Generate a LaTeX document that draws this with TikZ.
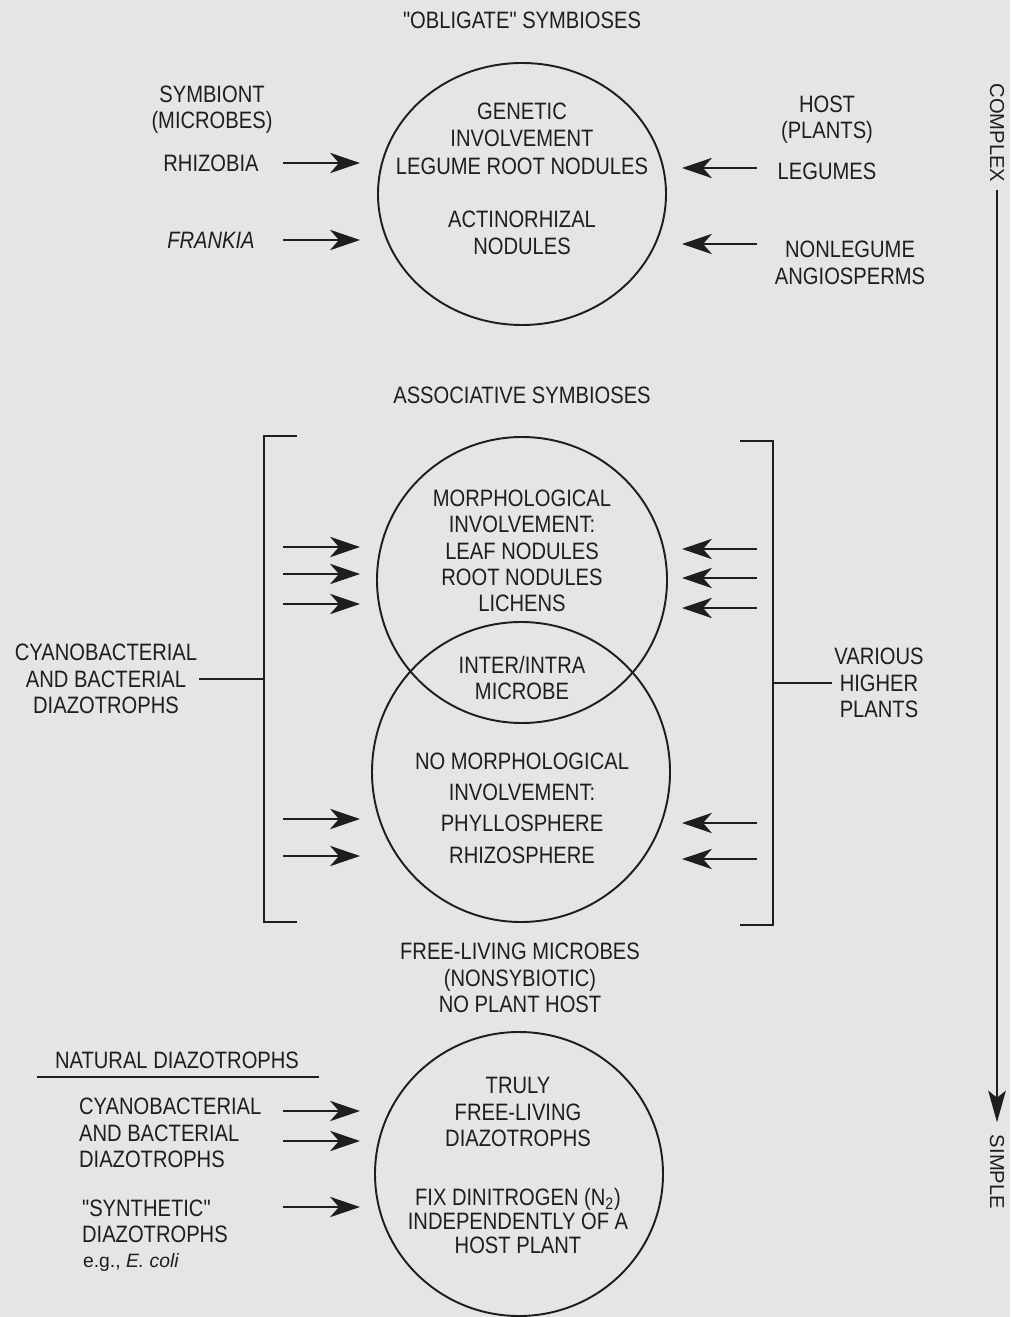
\documentclass[tikz,border=0pt]{standalone}
\usepackage{fontspec}
\setmainfont{Liberation Sans}[FakeStretch=0.85, Ligatures=TeXOff]
\newfontfamily\widefont{Liberation Sans}
\usepackage{xcolor}
\usetikzlibrary{arrows.meta, positioning}
\definecolor{paper}{RGB}{229,229,227}
\definecolor{ink}{RGB}{30,30,30}

\begin{document}
\begin{tikzpicture}[x=0.02cm, y=-0.02cm,
    txt/.style={font=\fontsize{13.5}{15}\selectfont, align=center, inner sep=1pt, text=ink},
    arr/.style={draw=ink, line width=1.6pt, -{Stealth[length=17pt, width=11.5pt, inset=5pt]}},
    ring/.style={draw=ink, line width=1.1pt},
    brk/.style={draw=ink, line width=1.2pt},
    side/.style={font=\widefont\fontsize{11.5}{13}\selectfont, text=ink, rotate=-90, inner sep=2pt}]
    \def\lxa{283} \def\lxb{360}
    \def\rxa{757} \def\rxb{682}
    \useasboundingbox (0,0) rectangle (1010,1317);
    \fill[paper] (0,0) rectangle (1010,1317);
    \clip (0,0) rectangle (1010,1317);

    % obligate
    \node[txt] (obltitle) at (522,20) {"OBLIGATE" SYMBIOSES};
    \coordinate (obl) at (522,194);
    \draw[ring] (obl) ellipse [x radius=144, y radius=131];
    \node[txt] (genetic) at (522,125) {GENETIC\\INVOLVEMENT};
    \node[txt] (legnod) at (522,166) {LEGUME ROOT NODULES};
    \node[txt] (actino) at (522,233) {ACTINORHIZAL\\NODULES};
    \node[txt] (symbiont) at (212,110) {SYMBIONT\\(MICROBES)};
    \node[txt] (rhizobia) at (211,163) {RHIZOBIA};
    \node[txt] (frankia) at (211,240) {\textit{FRANKIA}};
    \node[txt] (host) at (827,120) {HOST\\(PLANTS)};
    \node[txt] (legumes) at (827,171) {LEGUMES};
    \node[txt] (nonleg) at (850,263) {NONLEGUME\\ANGIOSPERMS};
    \foreach \yy [count=\i] in {163,240} {
        \coordinate (ola\i) at (\lxa,\yy);
        \coordinate (olb\i) at (\lxb,\yy);
        \draw[arr] (ola\i) -- (olb\i);
    }
    \foreach \yy [count=\i] in {168,244} {
        \coordinate (ora\i) at (\rxa,\yy);
        \coordinate (orb\i) at (\rxb,\yy);
        \draw[arr] (ora\i) -- (orb\i);
    }

    % associative
    \node[txt] (asstitle) at (522,395) {ASSOCIATIVE SYMBIOSES};
    \coordinate (morph) at (522,580);
    \coordinate (nomorph) at (521,772);
    \draw[ring] (morph) ellipse [x radius=145, y radius=143];
    \draw[ring] (nomorph) ellipse [x radius=149, y radius=150];
    \node[txt] (morphtxt) at (522,551) {MORPHOLOGICAL\\INVOLVEMENT:\\LEAF NODULES\\ROOT NODULES\\LICHENS};
    \node[txt] (inter) at (522,678) {INTER/INTRA\\MICROBE};
    \node[txt, font=\fontsize{13.5}{17.9}\selectfont] (nomorphtxt) at (522,808) {NO MORPHOLOGICAL\\INVOLVEMENT:\\PHYLLOSPHERE\\RHIZOSPHERE};
    \draw[brk] (297,436) -- (264,436) -- (264,922) -- (297,922);
    \draw[brk] (740,441) -- (773,441) -- (773,925) -- (740,925);
    \coordinate (lbrk) at (264,436);
    \coordinate (rbrk) at (773,441);
    \node[txt] (cyano) at (106,679) {CYANOBACTERIAL\\AND BACTERIAL\\DIAZOTROPHS};
    \node[txt] (various) at (879,683) {VARIOUS\\HIGHER\\PLANTS};
    \draw[brk] (cyano.east) -- (cyano.east -| lbrk);
    \draw[brk] (various.west) -- (various.west -| rbrk);
    \foreach \yy [count=\i] in {547,574,604,819,856} {
        \coordinate (ala\i) at (\lxa,\yy);
        \coordinate (alb\i) at (\lxb,\yy);
        \draw[arr] (ala\i) -- (alb\i);
    }
    \foreach \yy [count=\i] in {549,578,608,823,859} {
        \coordinate (ara\i) at (\rxa,\yy);
        \coordinate (arb\i) at (\rxb,\yy);
        \draw[arr] (ara\i) -- (arb\i);
    }

    % free-living
    \node[txt] (freetitle) at (520,978) {FREE-LIVING MICROBES\\(NONSYBIOTIC)\\NO PLANT HOST};
    \coordinate (free) at (519,1174);
    \draw[ring] (free) ellipse [x radius=144, y radius=142];
    \node[txt] (truly) at (518,1112) {TRULY\\FREE-LIVING\\DIAZOTROPHS};
    \node[txt, font=\fontsize{13.5}{13.8}\selectfont] (fix) at (518,1221) {FIX DINITROGEN (N\textsubscript{2})\\INDEPENDENTLY OF A\\HOST PLANT};
    \node[txt] (natural) at (177,1060) {NATURAL DIAZOTROPHS};
    \draw[brk] (37,1077) -- (319,1077);
    \node[txt, align=left, anchor=west] (cyanofree) at (77,1133) {CYANOBACTERIAL\\AND BACTERIAL\\DIAZOTROPHS};
    \node[txt, align=left, anchor=west] (synth) at (80,1221) {"SYNTHETIC"\\DIAZOTROPHS};
    \node[txt, anchor=west, font=\widefont\fontsize{11}{13}\selectfont] (ecoli) at (81,1262) {e.g., \textit{E. coli}};
    \foreach \yy [count=\i] in {1111,1141,1207} {
        \coordinate (fla\i) at (\lxa,\yy);
        \coordinate (flb\i) at (\lxb,\yy);
        \draw[arr] (fla\i) -- (flb\i);
    }

    % scale of complexity
    \node[side] (complex) at (997,133) {COMPLEX};
    \node[side] (simple) at (997,1172) {SIMPLE};
    \draw[draw=ink, line width=1pt, shorten <=2pt, shorten >=5pt, -{Stealth[length=18pt, width=10pt, inset=4pt]}] (complex.east) -- (simple.west);
\end{tikzpicture}
\end{document}
